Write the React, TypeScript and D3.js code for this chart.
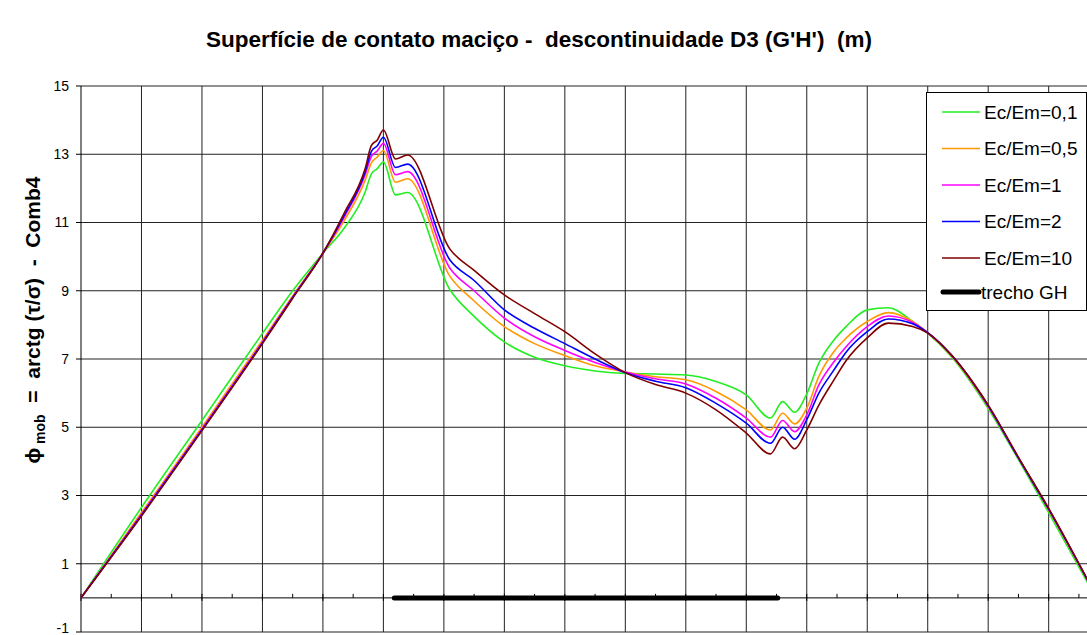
import * as d3 from "d3";

// x positions shared by all series
const xs = [0, 1, 2, 3, 3.5, 4, 4.35, 4.7, 4.8, 4.9, 5.0, 5.2, 5.4, 6.1, 6.5, 7.0, 7.5, 8.0, 8.5, 9.0, 9.5, 10.0, 10.5, 11.0, 11.4, 11.6, 11.8, 12.0, 12.2, 12.45, 12.65, 13.0, 13.35, 13.75, 14.0, 14.4, 15.0, 15.5, 16.0, 16.8];

const ec01 = [0, 2.65, 5.2, 7.75, 9.0, 10.1, 10.83, 11.9, 12.42, 12.58, 12.77, 11.81, 11.88, 9.03, 8.25, 7.5, 7.05, 6.8, 6.65, 6.58, 6.56, 6.53, 6.34, 5.95, 5.27, 5.75, 5.44, 5.98, 6.88, 7.56, 7.95, 8.44, 8.5, 8.1, 7.76, 7.05, 5.55, 4.05, 2.5, -0.05];
const ec05 = [0, 2.5, 5.0, 7.55, 8.85, 10.1, 11.05, 12.25, 12.74, 12.92, 13.11, 12.18, 12.28, 9.42, 8.7, 7.95, 7.45, 7.1, 6.8, 6.62, 6.48, 6.39, 6.05, 5.51, 4.92, 5.41, 5.1, 5.56, 6.49, 7.22, 7.61, 8.1, 8.36, 8.1, 7.77, 7.08, 5.6, 4.1, 2.57, 0];
const ec1 = [0, 2.45, 4.95, 7.5, 8.82, 10.1, 11.15, 12.41, 12.93, 13.1, 13.32, 12.4, 12.49, 9.66, 9.0, 8.2, 7.65, 7.25, 6.9, 6.62, 6.42, 6.27, 5.85, 5.27, 4.71, 5.2, 4.87, 5.36, 6.24, 6.92, 7.36, 7.95, 8.26, 8.07, 7.77, 7.1, 5.62, 4.1, 2.6, 0];
const ec2 = [0, 2.42, 4.92, 7.47, 8.8, 10.1, 11.2, 12.49, 13.08, 13.25, 13.5, 12.61, 12.71, 9.9, 9.3, 8.44, 7.9, 7.45, 7.0, 6.6, 6.35, 6.16, 5.7, 5.12, 4.53, 5.0, 4.65, 5.22, 6.0, 6.68, 7.2, 7.8, 8.17, 8.03, 7.77, 7.1, 5.63, 4.1, 2.6, 0];
const ec10 = [0, 2.4, 4.9, 7.45, 8.78, 10.1, 11.27, 12.59, 13.25, 13.42, 13.71, 12.86, 12.98, 10.22, 9.6, 8.88, 8.33, 7.8, 7.15, 6.6, 6.25, 6.0, 5.51, 4.83, 4.22, 4.71, 4.37, 4.92, 5.65, 6.39, 6.95, 7.62, 8.05, 7.95, 7.76, 7.1, 5.65, 4.12, 2.62, 0];

const seriesNames = ["Ec/Em=0,1", "Ec/Em=0,5", "Ec/Em=1", "Ec/Em=2", "Ec/Em=10"];
const seriesColors = ["#22ee22", "#ff9900", "#ff00ff", "#0000ff", "#800000"];
const seriesValues = [ec01, ec05, ec1, ec2, ec10];

// trecho GH (thick black segment on the axis)
const trechoX = [5.18, 11.52];
const trechoY = [0, 0];

const yTicks = [-1, 1, 3, 5, 7, 9, 11, 13, 15];

const W = 1087;
const H = 635;
const M = { left: 81, top: 86 };

export default function App() {
  const x = d3.scaleLinear().domain([0, 17]).range([M.left, M.left + 17 * 60.48]);
  const y = d3.scaleLinear().domain([-1, 15]).range([632, M.top]);

  const line = d3
    .line<[number, number]>()
    .x((d) => x(d[0]))
    .y((d) => y(d[1]))
    .curve(d3.curveMonotoneX);

  const halfTicks = d3.range(0, 34).map((i) => i / 2);
  const vGrid = d3.range(1, 18);

  const legendY = [112, 148.5, 185, 221.5, 258, 292];

  return (
    <div>
      <style>{`body{margin:0}`}</style>
      <svg width={W} height={H} style={{ display: "block", fontFamily: "Arial, 'Liberation Sans', sans-serif" }}>
        <rect x={0} y={0} width={W} height={H} fill="#fff" />
        <text x={539} y={47} textAnchor="middle" fontSize={22.5} fontWeight="bold" style={{ whiteSpace: "pre" }}>
          {"Superfície de contato maciço -  descontinuidade D3 (G'H')  (m)"}
        </text>

        {/* grid */}
        {yTicks.map((t) => (
          <line key={"h" + t} x1={x(0)} x2={W} y1={y(t)} y2={y(t)} stroke="#222" strokeWidth={1} />
        ))}
        {vGrid.map((t) => (
          <line key={"v" + t} x1={x(t)} x2={x(t)} y1={y(15)} y2={y(-1)} stroke="#222" strokeWidth={1} />
        ))}
        {/* x axis at 0 */}
        <line x1={x(0)} x2={W} y1={y(0)} y2={y(0)} stroke="#000" strokeWidth={1} />
        {halfTicks.map((t) => (
          <line key={"t" + t} x1={x(t)} x2={x(t)} y1={y(0) - 4} y2={y(0) + (Number.isInteger(t) ? 3 : 0)} stroke="#000" strokeWidth={1} />
        ))}
        {/* y axis */}
        <line x1={x(0)} x2={x(0)} y1={y(15)} y2={y(-1)} stroke="#000" strokeWidth={1} />
        {yTicks.map((t) => (
          <g key={"yt" + t}>
            <line x1={x(0) - 5} x2={x(0)} y1={y(t)} y2={y(t)} stroke="#000" />
            <text x={69} y={t === -1 ? y(t) - 4 : y(t)} dy="0.35em" textAnchor="end" fontSize={14}>
              {t}
            </text>
          </g>
        ))}

        {/* series */}
        {seriesValues.map((vals, i) => (
          <path
            key={seriesNames[i]}
            d={line(xs.map((xv, j) => [xv, vals[j]] as [number, number])) || ""}
            fill="none"
            stroke={seriesColors[i]}
            strokeWidth={1.6}
          />
        ))}
        <path
          d={d3.line<[number, number]>().x((d) => x(d[0])).y((d) => y(d[1]))(trechoX.map((v, j) => [v, trechoY[j]] as [number, number])) || ""}
          stroke="#000"
          strokeWidth={5}
          strokeLinecap="round"
          fill="none"
        />

        {/* y axis title */}
        <text transform="translate(40,320) rotate(-90)" textAnchor="middle" fontSize={21} fontWeight="bold" style={{ whiteSpace: "pre" }}>
          ϕ<tspan fontSize={14} dy={5}>{" mob"}</tspan>
          <tspan dy={-5}>{"  =  arctg (τ/σ)  -  Comb4"}</tspan>
        </text>

        {/* legend */}
        <rect x={926.5} y={92.5} width={160} height={218} fill="#fff" stroke="#000" strokeWidth={1} />
        {seriesNames.map((n, i) => (
          <g key={"lg" + n}>
            <line x1={942} x2={980} y1={legendY[i]} y2={legendY[i]} stroke={seriesColors[i]} strokeWidth={1.6} />
            <text x={984} y={legendY[i]} dy="0.35em" fontSize={19}>
              {n}
            </text>
          </g>
        ))}
        <line x1={943} x2={979} y1={legendY[5]} y2={legendY[5]} stroke="#000" strokeWidth={5} strokeLinecap="round" />
        <text x={981} y={legendY[5]} dy="0.35em" fontSize={19}>
          trecho GH
        </text>
      </svg>
    </div>
  );
}
